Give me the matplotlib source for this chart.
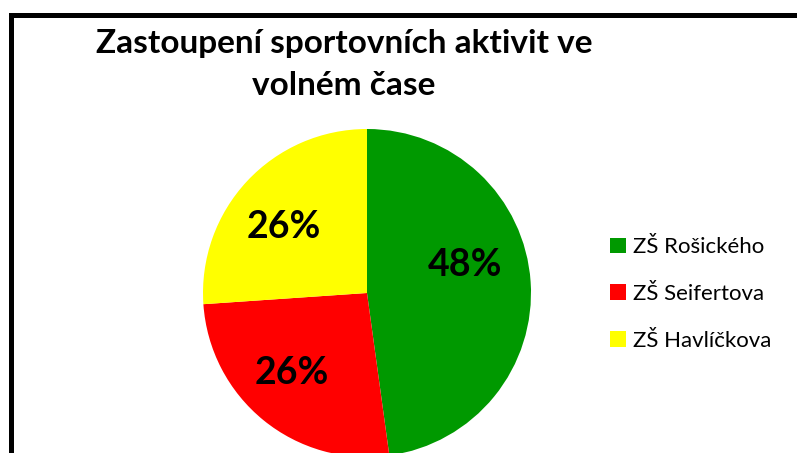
import matplotlib.pyplot as plt
from matplotlib.patches import Rectangle

plt.rcParams['font.family'] = ['Lato', 'DejaVu Sans']

labels = ["ZŠ Rošického", "ZŠ Seifertova", "ZŠ Havlíčkova"]
values = [11, 6, 6]
colors = ["#009900", "#ff0000", "#ffff00"]
title_lines = ["Zastoupení sportovních aktivit ve", "volném čase"]

W, H = 797, 453
fig = plt.figure(figsize=(W / 100, H / 100), dpi=100)

# pie axes: centre (367, 293) px, radius 164 px
cx, cy, r = 367, 293, 164
ax = fig.add_axes([(cx - r) / W, (H - cy - r) / H, 2 * r / W, 2 * r / H])
wedges, texts, autotexts = ax.pie(
    values, colors=colors, startangle=90, counterclock=False,
    autopct=lambda p: f"{p:.0f}%", pctdistance=0.65,
    wedgeprops=dict(linewidth=0),
    textprops=dict(fontsize=27, fontweight='bold', color='black'))
ax.set_xlim(-1, 1)
ax.set_ylim(-1, 1)

# label placement as in the original (Excel-style, not exactly mid-angle)
label_pos = [(0.60, 0.17), (-0.46, -0.49), (-0.51, 0.40)]
for t, p in zip(autotexts, label_pos):
    t.set_position(p)

# title
fig.text(344 / W, 1 - 53 / H, title_lines[0], ha='center', va='baseline',
         fontsize=24, fontweight='bold')
fig.text(344 / W, 1 - 95 / H, title_lines[1], ha='center', va='baseline',
         fontsize=24, fontweight='bold')

# legend
leg = fig.legend(wedges, labels, loc='center left',
                 bbox_to_anchor=(610 / W, 1 - 294 / H), frameon=False,
                 fontsize=16, handlelength=0.72, handleheight=0.72,
                 handletextpad=0.3, labelspacing=1.2,
                 borderpad=0, borderaxespad=0)

# outer frame (cut off on the right and bottom)
fig.add_artist(Rectangle((10.5 / W, -0.1), 1.2, 1.1 - 14.5 / H,
                         transform=fig.transFigure, fill=False,
                         edgecolor='black', linewidth=3.6))

fig.savefig("out.png", dpi=100)
